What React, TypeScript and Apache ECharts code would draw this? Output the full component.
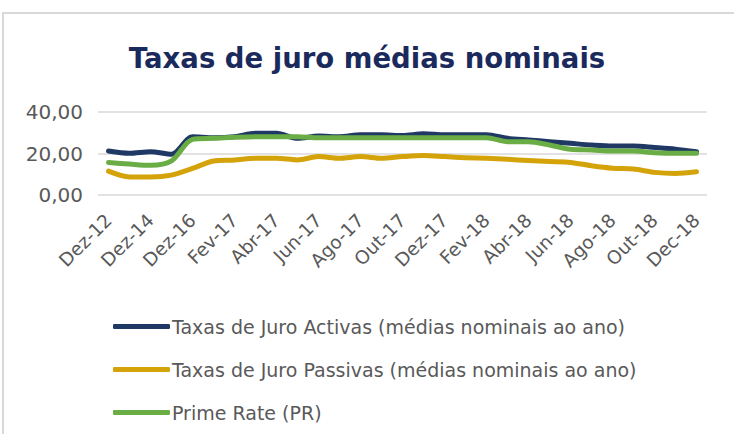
import React, { useEffect, useRef } from "react";
import * as echarts from "echarts";

const categories = [
  "Dez-12", "Dez-13", "Dez-14", "Dez-15", "Dez-16", "Jan-17", "Fev-17", "Mar-17", "Abr-17", "Mai-17",
  "Jun-17", "Jul-17", "Ago-17", "Set-17", "Out-17", "Nov-17", "Dez-17", "Jan-18", "Fev-18", "Mar-18",
  "Abr-18", "Mai-18", "Jun-18", "Jul-18", "Ago-18", "Set-18", "Out-18", "Nov-18", "Dec-18",
];

const activas = [
  21.2, 20.1, 20.9, 19.6, 28.1, 27.6, 28.1, 29.7, 29.7, 27.3,
  28.4, 28.1, 29.0, 29.0, 28.7, 29.5, 29.0, 29.0, 29.0, 27.3,
  26.5, 25.7, 24.9, 24.1, 23.6, 23.6, 22.9, 22.1, 20.9,
];

const passivas = [
  11.5, 8.7, 8.7, 9.6, 12.8, 16.4, 16.9, 17.7, 17.7, 16.9,
  18.5, 17.7, 18.5, 17.7, 18.5, 19.0, 18.5, 18.0, 17.7, 17.2,
  16.6, 16.1, 15.7, 14.1, 12.9, 12.5, 10.9, 10.4, 11.2,
];

const prime = [
  15.7, 14.9, 14.3, 16.4, 26.8, 27.3, 27.8, 28.1, 28.1, 28.1,
  27.6, 27.6, 27.6, 27.6, 27.6, 27.6, 27.6, 27.6, 27.6, 25.7,
  25.7, 24.1, 22.0, 21.7, 21.2, 21.2, 20.4, 20.1, 20.1,
];

const seriesNames = [
  "Taxas de Juro Activas (médias nominais ao ano)",
  "Taxas de Juro Passivas (médias nominais ao ano)",
  "Prime Rate (PR)",
];

const FONT = "DejaVu Sans";
const GRAY = "#595959";

export default function App() {
  const ref = useRef<HTMLDivElement>(null);
  useEffect(() => {
    if (!ref.current) return;
    const chart = echarts.init(ref.current, null, { renderer: "svg" });
    const colors = ["#1F3864", "#D4A30A", "#6AAD45"];
    const values = [activas, passivas, prime];
    chart.setOption({
      animation: false,
      backgroundColor: "#ffffff",
      title: {
        text: "Taxas de juro médias nominais",
        left: "center",
        top: 39,
        textStyle: { fontFamily: FONT, fontWeight: "bold", fontSize: 27.5, color: "#1B2A5C" },
      },
      graphic: [
        {
          type: "rect",
          shape: { x: 3, y: 13, width: 800, height: 500 },
          style: { fill: "none", stroke: "#D9D9D9", lineWidth: 2 },
          silent: true,
        },
      ],
      grid: { left: 98, right: 27, top: 112, bottom: 239, containLabel: false },
      xAxis: {
        type: "category",
        data: categories,
        boundaryGap: true,
        axisLine: { show: false },
        axisTick: { show: false },
        axisLabel: {
          interval: 1,
          rotate: 45,
          fontFamily: FONT,
          fontSize: 18.5,
          color: GRAY,
          margin: 22,
        },
      },
      yAxis: {
        type: "value",
        min: 0,
        max: 40,
        interval: 20,
        axisLine: { show: false },
        axisTick: { show: false },
        splitLine: { lineStyle: { color: "#D9D9D9", width: 1.5 } },
        axisLabel: {
          fontFamily: FONT,
          fontSize: 20,
          color: GRAY,
          margin: 15,
          formatter: (v: number) => v.toFixed(2).replace(".", ","),
        },
      },
      legend: {
        orient: "vertical",
        left: 108,
        top: 310,
        itemWidth: 57,
        itemHeight: 5,
        itemGap: 20,
        icon: "roundRect",
        textStyle: { fontFamily: FONT, fontSize: 19, color: GRAY, lineHeight: 23, padding: [0, 0, 0, -3] },
        data: seriesNames,
      },
      series: seriesNames.map((name, i) => ({
        name,
        type: "line",
        data: values[i],
        smooth: 0.3,
        showSymbol: false,
        symbol: "none",
        lineStyle: { width: 5, color: colors[i], cap: "round", join: "round" },
        itemStyle: { color: colors[i] },
        z: i === 2 ? 5 : 3,
      })),
    });
    return () => chart.dispose();
  }, []);
  return (
    <div
      ref={ref}
      style={{ position: "absolute", left: 0, top: 0, width: 734, height: 434, background: "#fff" }}
    />
  );
}
